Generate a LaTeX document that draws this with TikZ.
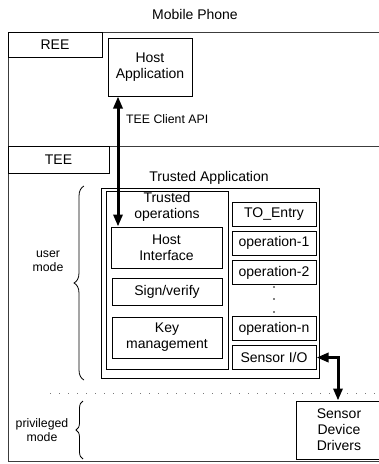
\documentclass[tikz,border=0pt]{standalone}
\usepackage{fontspec}
\setmainfont{Liberation Sans}
\usepackage{tikz}
\usetikzlibrary{arrows.meta,decorations.pathreplacing,positioning}
\usepackage{xcolor}
\definecolor{framegray}{RGB}{60,60,60}
\definecolor{dotgray}{RGB}{120,120,120}

\begin{document}
\begin{tikzpicture}[x=1pt, y=-1pt,
  box/.style={rectangle, draw=black, line width=1pt, inner sep=0pt,
              align=center, font=\fontsize{14}{16}\selectfont},
  lbl/.style={inner sep=0pt, align=center, font=\fontsize{14}{16}\selectfont},
  sml/.style={inner sep=0pt, align=center, font=\fontsize{12.3}{14}\selectfont},
  arr/.style={{Triangle[length=12pt,width=9pt]}-{Triangle[length=12pt,width=9pt]},
              line width=3pt},
  brc/.style={decorate, decoration={brace, amplitude=#1}, line width=0.8pt},
]
\useasboundingbox (0,0) rectangle (379,464);

% Phone frame, split into REE and TEE
\node[lbl] (phone) at (195,14) {Mobile Phone};
\draw[framegray, line width=1pt] (382,32) -- (8,32) -- (8,461) -- (382,461);
\draw[framegray, line width=1pt] (8,146) -- (382,146);
\node[box, minimum width=94pt, minimum height=25pt] (ree) at (55,44.5) {REE};
\node[box, minimum width=101pt, minimum height=27pt] (tee) at (58.5,159.5) {TEE};

% Normal world
\node[box, minimum width=84pt, minimum height=58pt] (hostapp) at (150,67) {Host\\Application};

% Trusted application with its operations
\node[lbl] (talbl) at (209,178) {Trusted Application};
\node[box, minimum width=218pt, minimum height=190pt] (ta) at (210,283) {};
\node[box, minimum width=122pt, minimum height=178pt] (tops) at (167,280) {};
\node[lbl] (topslbl) at (167,207) {Trusted\\operations};
\node[box, minimum width=111pt, minimum height=41pt] (hostif) at (166.5,247.5) {Host\\Interface};
\node[box, minimum width=110pt, minimum height=27pt] (sign) at (167,291.5) {Sign/verify};
\node[box, minimum width=110pt, minimum height=41pt] (keymgmt) at (167,337.5) {Key\\management};

% Entry point and operation table
\foreach \n/\y/\t in {toentry/214/TO\_Entry, op1/243/operation-1, op2/272.5/operation-2,
                      opn/328.5/operation-n, sio/357.5/{Sensor I/O}}{
  \node[box, minimum width=84pt, minimum height=24pt] (\n) at (274,\y) {\t};
}
\foreach \y in {287,299,312}{
  \fill (274,\y) circle (0.8pt);
}

% User / privileged split
\draw[dotgray, line width=1pt, dash pattern=on 1pt off 8pt] (50,393) -- (379,393);
\draw[brc=10pt] (84,380) -- (84,186);
\node[sml] (user) at (48,261) {user\\mode};
\draw[brc=7pt] (83,459) -- (83,401);
\node[sml] (priv) at (42,430) {privileged\\mode};

\node[box, minimum width=86pt, minimum height=58pt] (drv) at (339,430) {Sensor\\Device\\Drivers};

% Connections
\coordinate (apix) at (118,0);
\coordinate (dpix) at (338,0);
\draw[arr] (hostapp.south -| apix) -- (hostif.north -| apix);
\node[sml, anchor=west] (api) at (126,119) {TEE Client API};
\draw[arr] (sio.east) -| (drv.north -| dpix);
\end{tikzpicture}
\end{document}
